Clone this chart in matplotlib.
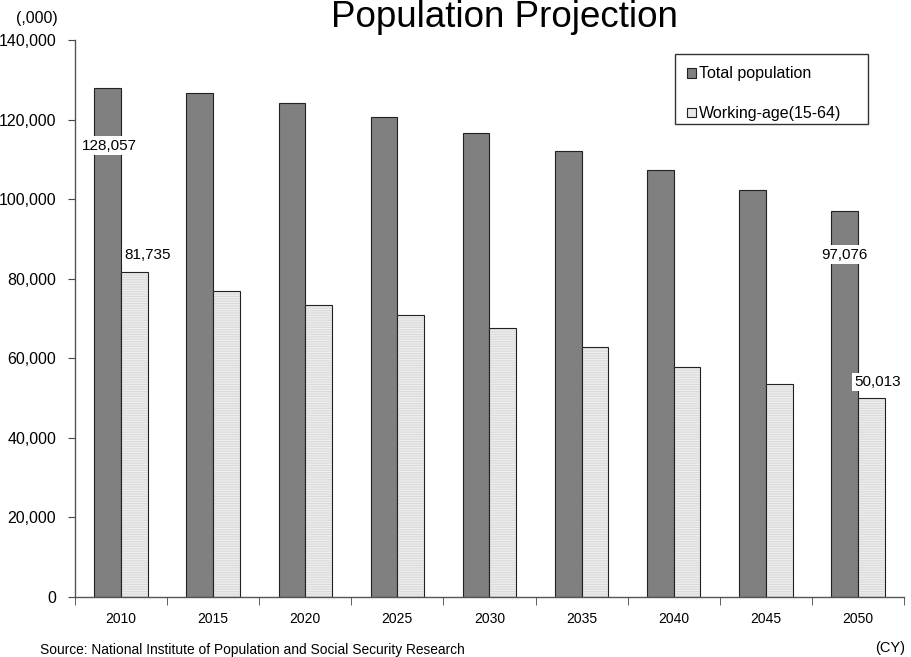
import matplotlib.pyplot as plt
from matplotlib.patches import Rectangle, Patch
import numpy as np

# Population projection (thousands)
years = ['2010', '2015', '2020', '2025', '2030', '2035', '2040', '2045', '2050']
total_pop = [128057, 126597, 124100, 120659, 116618, 112124, 107276, 102210, 97076]
working_age = [81735, 76818, 73408, 70845, 67730, 62919, 57866, 53531, 50013]
y_ticks = [0, 20000, 40000, 60000, 80000, 100000, 120000, 140000]

plt.rcParams['font.family'] = ['Liberation Sans', 'DejaVu Sans']
plt.rcParams['hatch.linewidth'] = 0.8

fig = plt.figure(figsize=(9.12, 6.57), dpi=100)
ax = fig.add_axes([0.0822, 0.0913, 0.909, 0.8478])

x = np.arange(len(years))
w = 0.29
ax.bar(x - w / 2, total_pop, w, color='#808080', edgecolor='#222222', linewidth=0.8)
# light striped fill first, then the dark outline on top
ax.bar(x + w / 2, working_age, w, color='#eeeeee', edgecolor='#dadada',
       linewidth=0, hatch='-------')
ax.bar(x + w / 2, working_age, w, fill=False, edgecolor='#222222', linewidth=0.8)

ax.set_xlim(-0.5, len(years) - 0.5)
ax.set_ylim(0, 140000)
ax.set_yticks(y_ticks)
ax.set_yticklabels([f'{v:,}' for v in y_ticks], fontsize=11.5)
ax.set_xticks(x)
ax.set_xticklabels(years, fontsize=10)
ax.tick_params(axis='x', length=0, pad=10.5)
ax.set_xticks(np.arange(-0.5, len(years)), minor=True)
ax.tick_params(axis='x', which='minor', length=6, direction='out', color='#444444')
ax.tick_params(axis='y', length=5, direction='out', color='#444444', pad=8.5)

for s in ['top', 'right']:
    ax.spines[s].set_visible(False)
for s in ['left', 'bottom']:
    ax.spines[s].set_color('#555555')
    ax.spines[s].set_linewidth(1.0)

# value labels on the first and last years
box = dict(facecolor='white', edgecolor='none', pad=1.5)
ax.text(x[0] - w / 2 + 0.02, total_pop[0] - 14600, f'{total_pop[0]:,}', ha='center',
        va='center', fontsize=11, bbox=box)
ax.text(x[0] + w / 2 + 0.14, working_age[0] + 4300, f'{working_age[0]:,}', ha='center',
        va='center', fontsize=11, bbox=box)
ax.text(x[-1] - w / 2, total_pop[-1] - 11000, f'{total_pop[-1]:,}', ha='center',
        va='center', fontsize=11, bbox=box)
ax.text(x[-1] + w / 2 + 0.065, working_age[-1] + 4000, f'{working_age[-1]:,}', ha='center',
        va='center', fontsize=11, bbox=box)

# legend box drawn separately so it can be wider than its entries
lx0, lx1, ly0, ly1 = 0.7238, 0.9566, 0.8492, 0.9749
ax.add_patch(Rectangle((lx0, ly0), lx1 - lx0, ly1 - ly0, transform=ax.transAxes,
                       facecolor='white', edgecolor='#333333', linewidth=1.0, zorder=4))
handles = [Patch(facecolor='#808080', edgecolor='#222222', linewidth=0.8),
           Patch(facecolor='#e8e8e8', edgecolor='#222222', linewidth=0.8)]
leg = ax.legend(handles, ['Total population', 'Working-age(15-64)'],
                loc='upper left', bbox_to_anchor=(lx0, ly1), borderaxespad=0,
                fontsize=11.5, handlelength=0.55, handleheight=0.55, handletextpad=0.15,
                labelspacing=1.55, borderpad=0.78, frameon=False)
leg.set_zorder(5)

fig.text(0.553, 0.959, 'Population Projection', ha='center', va='baseline', fontsize=26.5)
fig.text(0.063, 0.972, '(,000)', ha='right', va='center', fontsize=11.5)
fig.text(0.044, 0.0107, 'Source: National Institute of Population and Social Security Research',
         ha='left', va='center', fontsize=9.9)
fig.text(0.993, 0.013, '(CY)', ha='right', va='center', fontsize=10.5)

fig.savefig('out.png', dpi=100)
